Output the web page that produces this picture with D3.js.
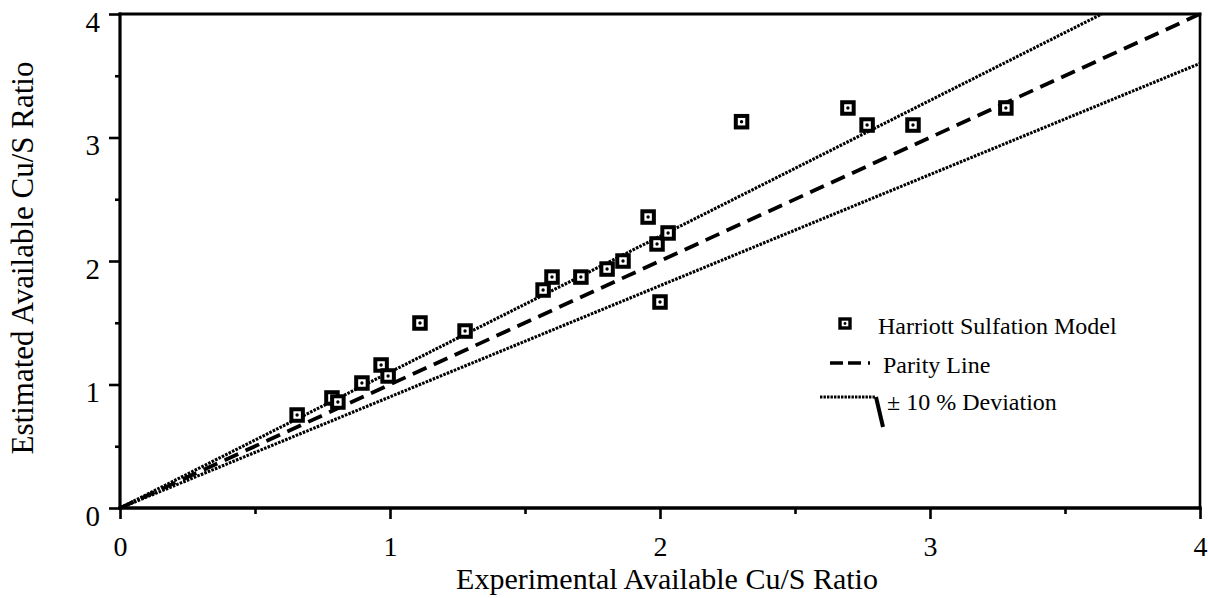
<!DOCTYPE html>
<html>
<head>
<meta charset="utf-8">
<script src="https://cdn.jsdelivr.net/npm/d3@7"></script>
<style>
  html, body { margin: 0; padding: 0; background: #fff; }
  svg { display: block; }
  text { font-family: "Liberation Serif", "Times New Roman", serif; fill: #000; }
</style>
</head>
<body>
<svg id="chart" width="1208" height="598"></svg>
<script>
// ---- data ----
const experimentalCuS = [0.656, 0.785, 0.807, 0.896, 0.967, 0.993, 1.111, 1.278, 1.567, 1.600, 1.707, 1.804, 1.863, 1.956, 1.989, 2.000, 2.030, 2.302, 2.696, 2.767, 2.937, 3.281];
const estimatedCuS    = [0.753, 0.891, 0.858, 1.012, 1.158, 1.069, 1.498, 1.433, 1.765, 1.870, 1.870, 1.935, 2.000, 2.356, 2.138, 1.668, 2.227, 3.128, 3.239, 3.101, 3.101, 3.239];
const majorTicks = [0, 1, 2, 3, 4];
const minorTicks = [0.5, 1.5, 2.5, 3.5];
const axisDomain = [0, 4];
const parityFactor = 1.0;
const deviationFactors = [1.1, 0.9];
const legendLabels = ["Harriott Sulfation Model", "Parity Line", "\u00B1 10 % Deviation"];
const xTitle = "Experimental Available Cu/S Ratio";
const yTitle = "Estimated Available Cu/S Ratio";

// ---- layout ----
const svg = d3.select("#chart");
const x = d3.scaleLinear().domain(axisDomain).range([120, 1200]);
const y = d3.scaleLinear().domain(axisDomain).range([508, 14]);

svg.append("defs").append("clipPath").attr("id", "plotclip")
  .append("rect").attr("x", x(0)).attr("y", y(4)).attr("width", x(4) - x(0)).attr("height", y(0) - y(4));

// reference lines
const lineGen = d3.line().x(d => x(d[0])).y(d => y(d[1]));
function refLine(f) {
  const xEnd = Math.min(4, 4 / f);
  return [[0, 0], [xEnd, xEnd * f]];
}
const lines = svg.append("g").attr("clip-path", "url(#plotclip)");
deviationFactors.forEach(f => {
  lines.append("path").attr("d", lineGen(refLine(f)))
    .attr("fill", "none").attr("stroke", "#000").attr("stroke-width", 3.1)
    .attr("stroke-dasharray", "2.6,1.2");
});
lines.append("path").attr("d", lineGen(refLine(parityFactor)))
  .attr("fill", "none").attr("stroke", "#000").attr("stroke-width", 3.8)
  .attr("stroke-dasharray", "15,8");

// axes
const xMajor = d3.axisBottom(x).tickValues(majorTicks).tickSize(11).tickPadding(17).tickFormat(d3.format("d"));
const xMinor = d3.axisBottom(x).tickValues(minorTicks).tickSize(6).tickFormat("");
const yMajor = d3.axisLeft(y).tickValues(majorTicks).tickSize(11).tickPadding(9).tickFormat(d3.format("d"));
const yMinor = d3.axisLeft(y).tickValues(minorTicks).tickSize(5).tickFormat("");

function styleAxis(g) {
  g.select(".domain").remove();
  g.selectAll(".tick line").attr("stroke", "#000").attr("stroke-width", 2.6);
  g.selectAll(".tick text").style("font-size", "28px").attr("fill", "#000");
}
svg.append("g").attr("transform", `translate(0,${y(0)})`).call(xMajor).call(styleAxis)
  .selectAll(".tick text").attr("dy", "0.71em");
svg.append("g").attr("transform", `translate(0,${y(0)})`).call(xMinor).call(styleAxis);
svg.append("g").attr("transform", `translate(${x(0)},0)`).call(yMajor).call(styleAxis)
  .selectAll(".tick text").attr("dy", "0.6em").style("font-size", "29px");
svg.append("g").attr("transform", `translate(${x(0)},0)`).call(yMinor).call(styleAxis);

// frame
const frame = svg.append("g").attr("stroke", "#000").attr("fill", "none").attr("stroke-linecap", "square");
frame.append("line").attr("x1", x(0)).attr("y1", y(0)).attr("x2", x(4)).attr("y2", y(0)).attr("stroke-width", 3.4);
frame.append("line").attr("x1", x(0)).attr("y1", y(0)).attr("x2", x(0)).attr("y2", y(4)).attr("stroke-width", 3.2);
frame.append("line").attr("x1", x(0)).attr("y1", y(4)).attr("x2", x(4)).attr("y2", y(4)).attr("stroke-width", 2.8);
frame.append("line").attr("x1", x(4)).attr("y1", y(4)).attr("x2", x(4)).attr("y2", y(0)).attr("stroke-width", 2.6);

// titles
svg.append("text").attr("x", 667).attr("y", 589).attr("text-anchor", "middle")
  .style("font-size", "30px").text(xTitle);
svg.append("text").attr("transform", "translate(33,258) rotate(-90)").attr("text-anchor", "middle")
  .style("font-size", "31px").text(yTitle);

// points
const pts = d3.range(experimentalCuS.length).map(i => [experimentalCuS[i], estimatedCuS[i]]);
const ms = 11.5;
const pg = svg.append("g");
pts.forEach(p => {
  pg.append("rect").attr("x", x(p[0]) - ms / 2).attr("y", y(p[1]) - ms / 2)
    .attr("width", ms).attr("height", ms)
    .attr("fill", "#fff").attr("stroke", "#000").attr("stroke-width", 4);
  pg.append("circle").attr("cx", x(p[0])).attr("cy", y(p[1])).attr("r", 1.7).attr("fill", "#000");
});

// legend
const lg = svg.append("g").attr("transform", "translate(820,300)");
lg.append("rect").attr("x", 20).attr("y", 19).attr("width", 10).attr("height", 9)
  .attr("fill", "#fff").attr("stroke", "#000").attr("stroke-width", 3.4);
lg.append("circle").attr("cx", 25).attr("cy", 23.5).attr("r", 1.4).attr("fill", "#000");
lg.append("text").attr("x", 58).attr("y", 34).style("font-size", "24px").text(legendLabels[0]);

lg.append("line").attr("x1", 10).attr("x2", 55).attr("y1", 63).attr("y2", 63)
  .attr("stroke", "#000").attr("stroke-width", 3.4).attr("stroke-dasharray", "13,5,13,7,2,10");
lg.append("text").attr("x", 63).attr("y", 73).style("font-size", "24px").text(legendLabels[1]);

lg.append("line").attr("x1", 0).attr("x2", 55).attr("y1", 97).attr("y2", 97)
  .attr("stroke", "#000").attr("stroke-width", 2.8).attr("stroke-dasharray", "2.4,1.1");
lg.append("line").attr("x1", 56).attr("x2", 63).attr("y1", 97).attr("y2", 127)
  .attr("stroke", "#000").attr("stroke-width", 4);
lg.append("text").attr("x", 67).attr("y", 110).style("font-size", "24px").text(legendLabels[2]);
</script>
</body>
</html>
